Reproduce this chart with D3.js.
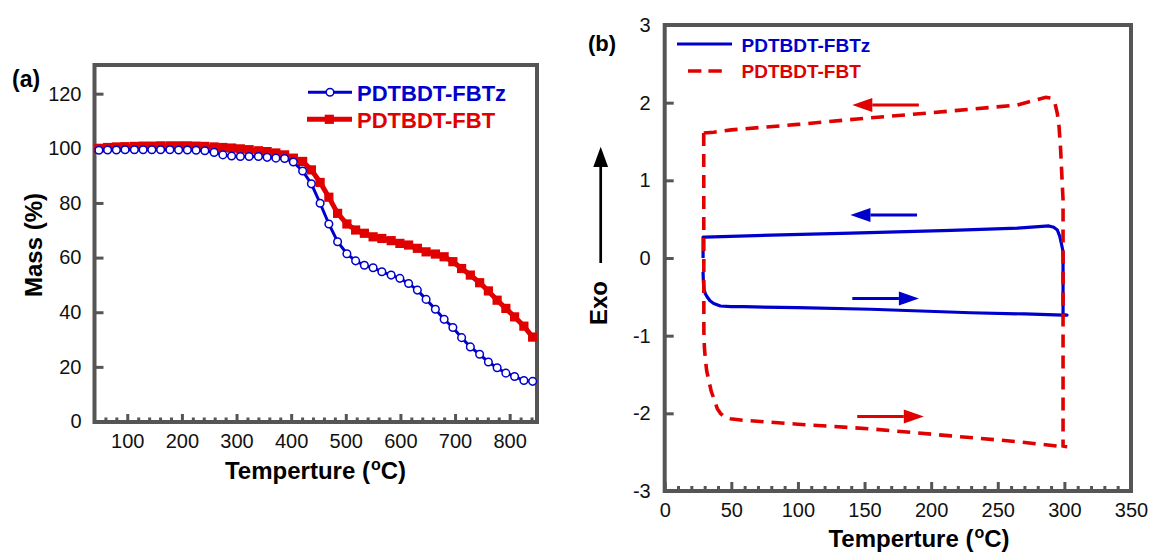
<!DOCTYPE html>
<html>
<head>
<meta charset="utf-8">
<script src="https://cdn.jsdelivr.net/npm/d3@7"></script>
<style>
  body { margin: 0; background: #fff; }
  svg { display: block; font-family: "Liberation Sans", Arial, sans-serif; }
</style>
</head>
<body>
<svg id="chart" width="1154" height="554"></svg>
<script>
// ---- panel (a): TGA ----
const tgaTemp = [48, 64, 80, 96, 113, 129, 145, 161, 178, 194, 210, 226, 242, 259, 275, 291, 307, 323, 340, 356,
  372, 388, 404, 421, 437, 453, 469, 485, 502, 518, 534, 550, 566, 583, 599, 615, 631, 647, 664, 680,
  696, 712, 728, 745, 761, 777, 793, 809, 826, 842];
const fbtzMass = [99.3, 99.4, 99.4, 99.5, 99.5, 99.5, 99.5, 99.5, 99.5, 99.4, 99.4, 99.3, 99.1, 98.5, 97.6, 97.2, 97.0, 97.0, 97.0, 96.7,
  96.4, 96.3, 95.0, 91.7, 87.0, 79.9, 72.3, 65.8, 61.4, 58.8, 57.2, 56.3, 54.8, 53.6, 52.4, 50.5, 48.1, 44.7, 41.1, 37.4,
  34.4, 30.7, 27.3, 24.6, 21.8, 19.7, 17.7, 16.5, 15.0, 14.7];
const fbtMass = [100.0, 100.3, 100.5, 100.6, 100.7, 100.8, 100.8, 100.9, 100.9, 100.9, 100.9, 100.8, 100.7, 100.5, 100.3, 100.1, 99.8, 99.5, 99.1, 98.8,
  98.3, 97.6, 96.4, 95.2, 92.1, 87.5, 82.1, 76.2, 72.3, 70.1, 68.9, 67.6, 67.0, 66.2, 65.2, 64.6, 63.4, 62.1, 61.3, 60.3,
  58.5, 56.0, 53.6, 50.8, 47.8, 44.4, 41.4, 38.3, 34.9, 30.9];
const tgaXTicks = [100, 200, 300, 400, 500, 600, 700, 800];
const tgaYTicks = [0, 20, 40, 60, 80, 100, 120];

// ---- panel (b): DSC loops (heating then cooling) ----
const fbtzDscTemp = [28.8, 29.0, 29.5, 30.5, 31.8, 34, 36.8, 41.8, 50, 59.3, 100, 154.6, 229.6, 270, 299, 302, 299, 299, 298.8, 297.7,
  296.5, 294.7, 292, 288.4, 265, 215, 140, 80, 30, 28.8, 28.8];
const fbtzDscFlow = [-0.18, -0.3, -0.4, -0.46, -0.5, -0.55, -0.585, -0.618, -0.625, -0.627, -0.64, -0.66, -0.705, -0.72, -0.735, -0.735, -0.73, 0.0, 0.1, 0.19,
  0.28, 0.36, 0.395, 0.413, 0.385, 0.355, 0.32, 0.295, 0.27, 0.27, 0.0];
const fbtDscTemp = [29.3, 29.4, 29.8, 30.5, 31.5, 33, 35, 37.3, 39.5, 41.8, 45, 49.3, 59.3, 100, 154.6, 214.6, 264.7, 299, 302, 299,
  299, 298.5, 297.2, 296, 294.7, 292.7, 289.6, 286, 264.7, 200, 144.5, 100, 50, 36.8, 29.3];
const fbtDscFlow = [1.61, -0.95, -1.15, -1.3, -1.45, -1.57, -1.72, -1.83, -1.94, -2.0, -2.05, -2.07, -2.09, -2.14, -2.2, -2.29, -2.365, -2.43, -2.43, -2.42,
  0.75, 0.92, 1.39, 1.69, 1.86, 2.01, 2.06, 2.07, 1.97, 1.87, 1.79, 1.72, 1.65, 1.62, 1.61];
const dscXTicks = [0, 50, 100, 150, 200, 250, 300, 350];
const dscYTicks = [-3, -2, -1, 0, 1, 2, 3];
// direction arrows: series, tail temp, head temp, level
const arrowSeries = ["fbt", "fbtz", "fbtz", "fbt"];
const arrowFrom = [190.8, 189.4, 140.8, 144.5];
const arrowTo = [140.8, 139.4, 190.8, 194.5];
const arrowLevel = [1.97, 0.555, -0.52, -2.04];

const blue = "#0000cc", red = "#e00000", axisGray = "#555";
const names = { fbtz: "PDTBDT-FBTz", fbt: "PDTBDT-FBT" };

const svg = d3.select("#chart");
svg.append("rect").attr("width", 1154).attr("height", 554).attr("fill", "#fff");

const styleAxis = (g) => {
    g.select(".domain").remove();
    g.selectAll(".tick line").attr("stroke", axisGray).attr("stroke-width", 3);
    g.selectAll(".tick text").attr("font-size", 20).attr("fill", "#111")
        .attr("font-family", "Liberation Sans, Arial, sans-serif");
};
const plainNum = d => String(d);

const tempTitle = (x, y) => {
    const t = svg.append("text").attr("x", x).attr("y", y).attr("text-anchor", "middle")
        .attr("font-size", 24).attr("font-weight", "bold").attr("fill", "#000");
    t.append("tspan").text("Temperture (");
    t.append("tspan").attr("dy", -9).attr("dx", 1).attr("font-size", 16).text("o");
    t.append("tspan").attr("dy", 9).text("C)");
};

// ================= panel (a) =================
const xA = d3.scaleLinear().domain([40, 850]).range([94.5, 537]);
const yA = d3.scaleLinear().domain([0, 130.5]).range([421.5, 65]);

const tga = tgaTemp.map((t, i) => ({ t: t, fbtz: fbtzMass[i], fbt: fbtMass[i] }));

svg.append("g").attr("transform", "translate(0,422)")
    .call(d3.axisBottom(xA).tickValues(d3.range(60, 850, 20).filter(v => v % 100 !== 0)).tickSize(-4.5).tickFormat(""))
    .call(styleAxis);
svg.append("g").attr("transform", "translate(0,422)")
    .call(d3.axisBottom(xA).tickValues(tgaXTicks).tickSize(-8).tickPadding(12).tickFormat(plainNum))
    .call(styleAxis);
svg.append("g").attr("transform", "translate(94.5,0)")
    .call(d3.axisLeft(yA).tickValues(tgaYTicks).tickSize(-9).tickPadding(13).tickFormat(plainNum))
    .call(styleAxis);

svg.append("rect").attr("x", 94.5).attr("y", 65).attr("width", 442.5).attr("height", 357)
    .attr("fill", "none").attr("stroke", axisGray).attr("stroke-width", 4);

// red series (under)
svg.append("path").datum(tga)
    .attr("d", d3.line().x(d => xA(d.t)).y(d => yA(d.fbt)))
    .attr("fill", "none").attr("stroke", red).attr("stroke-width", 5);
svg.selectAll(".sq").data(tga).enter().append("rect")
    .attr("x", d => xA(d.t) - 4.6).attr("y", d => yA(d.fbt) - 4.6)
    .attr("width", 9.2).attr("height", 9.2).attr("fill", red);

// blue series (over)
svg.append("path").datum(tga)
    .attr("d", d3.line().x(d => xA(d.t)).y(d => yA(d.fbtz)))
    .attr("fill", "none").attr("stroke", blue).attr("stroke-width", 3);
svg.selectAll(".circ").data(tga).enter().append("circle")
    .attr("cx", d => xA(d.t)).attr("cy", d => yA(d.fbtz)).attr("r", 3.8)
    .attr("fill", "#fff").attr("stroke", blue).attr("stroke-width", 1.5);

// legend (a)
svg.append("line").attr("x1", 308).attr("x2", 352).attr("y1", 92.3).attr("y2", 92.3)
    .attr("stroke", blue).attr("stroke-width", 3);
svg.append("circle").attr("cx", 330).attr("cy", 92.3).attr("r", 3.8)
    .attr("fill", "#fff").attr("stroke", blue).attr("stroke-width", 1.5);
svg.append("line").attr("x1", 307).attr("x2", 352).attr("y1", 119.3).attr("y2", 119.3)
    .attr("stroke", red).attr("stroke-width", 5);
svg.append("rect").attr("x", 324.7).attr("y", 114.7).attr("width", 9.2).attr("height", 9.2).attr("fill", red);
svg.append("text").attr("x", 357).attr("y", 100.5).attr("font-size", 22).attr("font-weight", "bold")
    .attr("fill", blue).text(names.fbtz);
svg.append("text").attr("x", 357).attr("y", 127.5).attr("font-size", 22).attr("font-weight", "bold")
    .attr("fill", red).text(names.fbt);

svg.append("text").attr("x", 12).attr("y", 87).attr("font-size", 23).attr("font-weight", "bold").text("(a)");
svg.append("text").attr("transform", "translate(42,245) rotate(-90)").attr("text-anchor", "middle")
    .attr("font-size", 24).attr("font-weight", "bold").text("Mass (%)");
tempTitle(315.5, 479);

// ================= panel (b) =================
const xB = d3.scaleLinear().domain([0, 350]).range([664.7, 1131]);
const yB = d3.scaleLinear().domain([-3, 3]).range([491, 25]);

svg.append("g").attr("transform", "translate(0,491)")
    .call(d3.axisBottom(xB).tickValues(d3.range(10, 350, 10).filter(v => v % 50 !== 0)).tickSize(-5).tickFormat(""))
    .call(styleAxis);
svg.append("g").attr("transform", "translate(0,491)")
    .call(d3.axisBottom(xB).tickValues(dscXTicks).tickSize(-9).tickPadding(12).tickFormat(plainNum))
    .call(styleAxis);
svg.append("g").attr("transform", "translate(664.7,0)")
    .call(d3.axisLeft(yB).tickValues(dscYTicks).tickSize(-9).tickPadding(14).tickFormat(plainNum))
    .call(styleAxis);

svg.append("rect").attr("x", 664.7).attr("y", 25).attr("width", 466.3).attr("height", 466)
    .attr("fill", "none").attr("stroke", axisGray).attr("stroke-width", 4);

const dscLine = d3.line().x(d => xB(d[0])).y(d => yB(d[1]));
const fbtzDsc = fbtzDscTemp.map((t, i) => [t, fbtzDscFlow[i]]);
const fbtDsc = fbtDscTemp.map((t, i) => [t, fbtDscFlow[i]]);

svg.append("path").datum(fbtzDsc).attr("d", dscLine)
    .attr("fill", "none").attr("stroke", blue).attr("stroke-width", 3.2).attr("stroke-linejoin", "round");
svg.append("path").datum(fbtDsc).attr("d", dscLine)
    .attr("fill", "none").attr("stroke", red).attr("stroke-width", 3.6).attr("stroke-dasharray", "13,8");

// direction arrows
arrowSeries.forEach((s, i) => {
    const col = s === "fbt" ? red : blue;
    const x0 = xB(arrowFrom[i]), x1 = xB(arrowTo[i]), y = yB(arrowLevel[i]);
    const dir = x1 > x0 ? 1 : -1;
    const base = x1 - dir * 20;
    svg.append("line").attr("x1", x0).attr("x2", base).attr("y1", y).attr("y2", y)
        .attr("stroke", col).attr("stroke-width", 3);
    svg.append("polygon").attr("points", `${x1},${y} ${base},${y - 7} ${base},${y + 7}`).attr("fill", col);
});

// legend (b)
svg.append("line").attr("x1", 677).attr("x2", 732).attr("y1", 44).attr("y2", 44)
    .attr("stroke", blue).attr("stroke-width", 3.2);
svg.append("line").attr("x1", 688).attr("x2", 722).attr("y1", 71).attr("y2", 71)
    .attr("stroke", red).attr("stroke-width", 3.6).attr("stroke-dasharray", "13.4,7");
svg.append("text").attr("x", 741.5).attr("y", 51.5).attr("font-size", 19).attr("font-weight", "bold")
    .attr("fill", blue).text(names.fbtz);
svg.append("text").attr("x", 741.5).attr("y", 78).attr("font-size", 19).attr("font-weight", "bold")
    .attr("fill", red).text(names.fbt);

svg.append("text").attr("x", 588).attr("y", 51).attr("font-size", 22).attr("font-weight", "bold").text("(b)");

// Exo arrow + label
svg.append("line").attr("x1", 600.7).attr("x2", 600.7).attr("y1", 263).attr("y2", 165)
    .attr("stroke", "#000").attr("stroke-width", 2.7);
svg.append("polygon").attr("points", "600.7,146.7 593.3,167 608.1,167").attr("fill", "#000");
svg.append("text").attr("transform", "translate(606.5,303) rotate(-90)").attr("text-anchor", "middle")
    .attr("font-size", 24).attr("font-weight", "bold").text("Exo");

tempTitle(919, 546.5);
</script>
</body>
</html>
